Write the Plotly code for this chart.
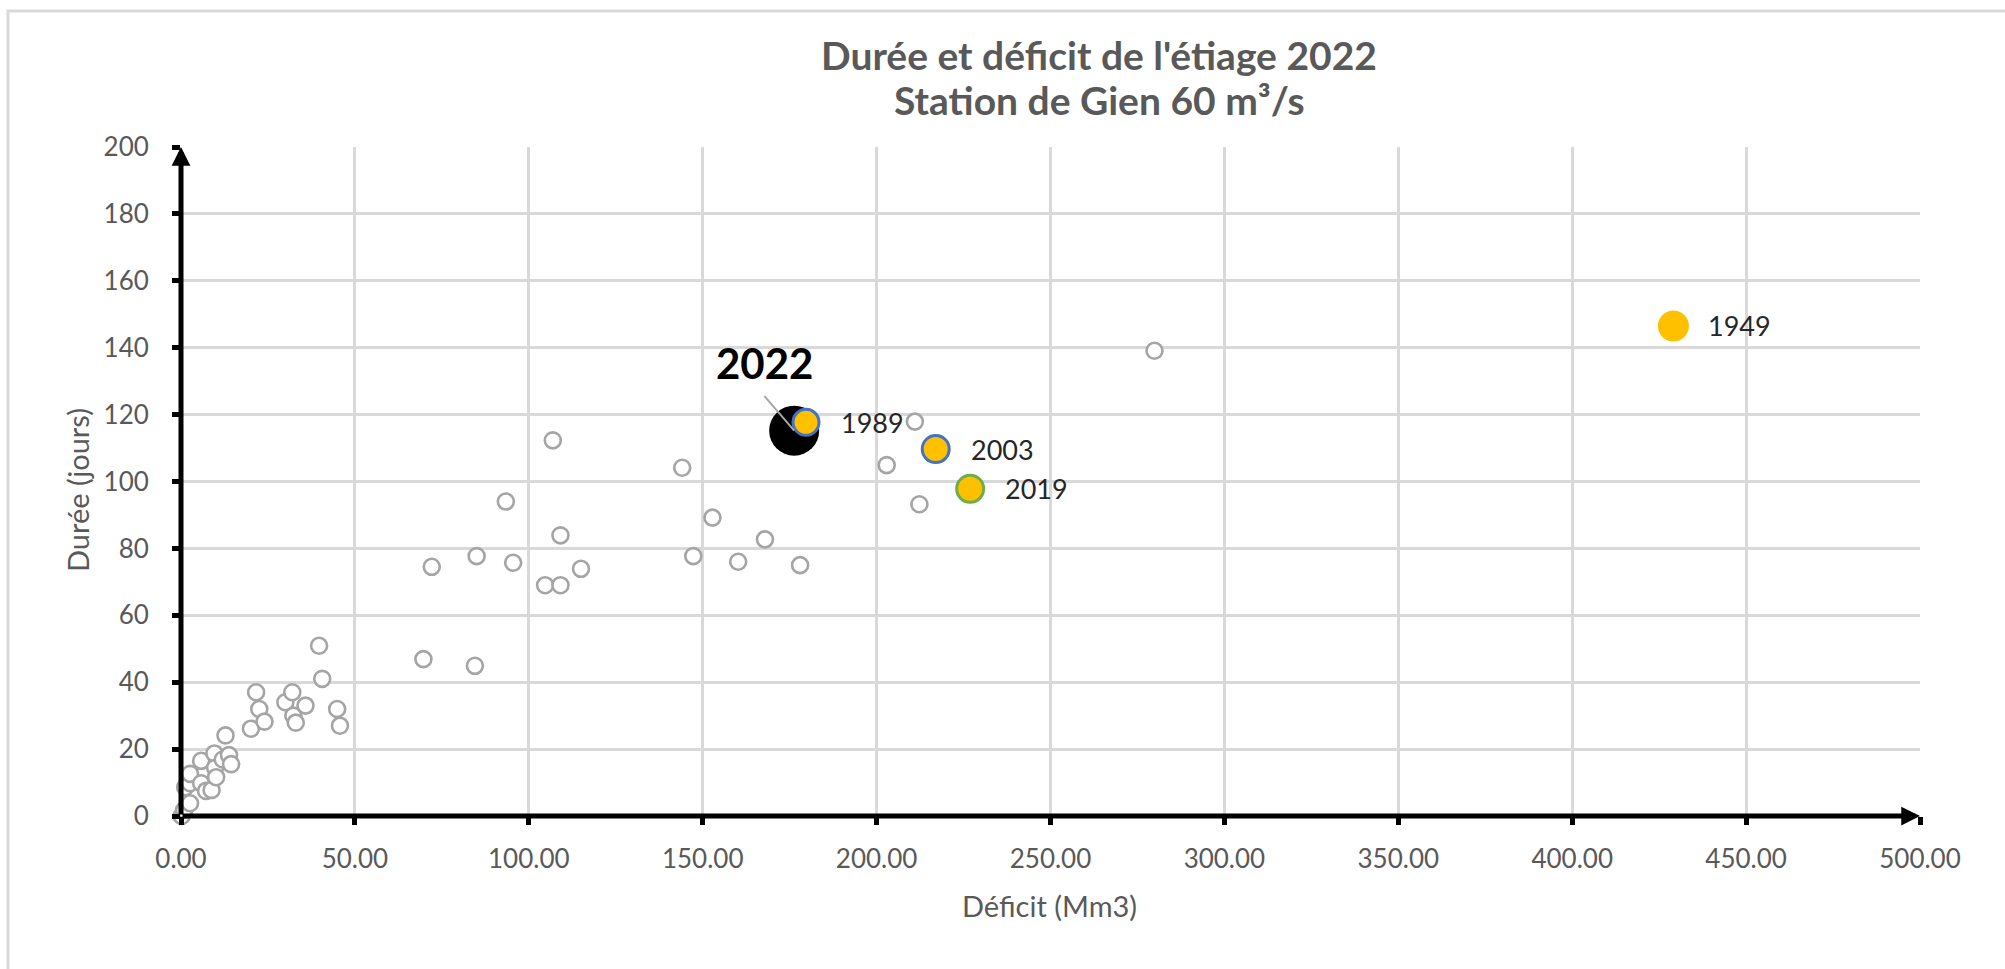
import plotly.graph_objects as go

# ---------------- data ----------------
deficit_all = [0.2, 0.9, 2.6, 1.2, 2.6, 2.6, 5.8, 5.8, 7.2, 8.8, 9.6, 9.8, 10.1, 12.0, 12.8, 13.8, 14.4,
               20.1, 21.6, 22.5, 24.0, 30.0, 32.0, 32.3, 33.0, 35.8, 39.7, 40.6, 44.9, 45.7,
               69.7, 84.5, 72.1, 85.0, 95.5, 93.4,
               106.9, 109.1, 104.7, 109.1, 115.0,
               144.1, 152.8, 167.9, 147.3, 160.2, 178.0,
               211.0, 202.9, 212.3, 279.9]
duree_all = [0, 1.8, 3.8, 8.6, 9.8, 12.6, 16.5, 9.8, 7.5, 7.8, 18.7, 14.4, 11.6, 16.9, 24.1, 18.2, 15.5,
             26.1, 37.0, 32.0, 28.2, 34.0, 37.0, 30.0, 27.9, 33.0, 50.9, 41.0, 32.0, 27.0,
             46.9, 44.9, 74.5, 77.7, 75.7, 94.0,
             112.3, 83.9, 69.0, 69.0, 73.9,
             104.1, 89.2, 82.7, 77.7, 76.0, 75.0,
             117.9, 104.9, 93.2, 139.1]

highlight_years = ["1949", "1989", "2003", "2019"]
highlight_deficit = [429.1, 179.7, 217.0, 226.9]
highlight_duree = [146.5, 117.7, 109.7, 97.8]
highlight_border = ["#FFC000", "#4472C4", "#4472C4", "#70AD47"]

year_2022 = "2022"
deficit_2022 = [176.3]
duree_2022 = [115.2]

x_tickvals = [0, 50, 100, 150, 200, 250, 300, 350, 400, 450, 500]
y_tickvals = [0, 20, 40, 60, 80, 100, 120, 140, 160, 180, 200]

title_line1 = "Durée et déficit de l'étiage 2022"
title_line2 = "Station de Gien 60 m³/s"
x_title = "Déficit (Mm3)"
y_title = "Durée (jours)"

# ---------------- layout geometry ----------------
W, H = 2005, 969
L, R, T, B = 181, 1920, 147, 816
FONT = "Lato, 'Open Sans', sans-serif"
GRAY = "#595959"


def px(x):
    return (x - L) / (R - L)


def py(y):
    return (B - y) / (B - T)


fig = go.Figure()

fig.add_trace(go.Scatter(
    x=deficit_all, y=duree_all, mode="markers", cliponaxis=False,
    marker=dict(size=16, color="white", opacity=1, line=dict(color="#A5A5A5", width=2.6)),
    hoverinfo="x+y", showlegend=False))

fig.add_trace(go.Scatter(
    x=deficit_2022, y=duree_2022, mode="markers", cliponaxis=False,
    marker=dict(size=50, color="black", opacity=1, line=dict(width=0)),
    showlegend=False))

fig.add_trace(go.Scatter(
    x=highlight_deficit, y=highlight_duree, mode="markers", cliponaxis=False,
    marker=dict(size=[31, 26, 27, 27], color="#FFC000", opacity=1,
                line=dict(color=highlight_border, width=[0, 3, 3, 3])),
    text=highlight_years, hoverinfo="text+x+y", showlegend=False))

annotations = []
for yr, xv, yv in zip(highlight_years, highlight_deficit, highlight_duree):
    annotations.append(dict(x=xv, y=yv, xref="x", yref="y", text=yr, showarrow=False,
                            xanchor="left", yanchor="middle", xshift=33,
                            font=dict(family=FONT, size=27, color="#262626")))

annotations.append(dict(x=deficit_2022[0], y=duree_2022[0], xref="x", yref="y",
                        text="<b>%s</b>" % year_2022, showarrow=False,
                        xanchor="center", yanchor="middle", xshift=-30, yshift=68,
                        font=dict(family=FONT, size=42, color="black")))
annotations.append(dict(x=deficit_2022[0], y=duree_2022[0], xref="x", yref="y",
                        text="", showarrow=True, ax=-31, ay=-36, arrowhead=0,
                        arrowwidth=2, arrowcolor="#A6A6A6", standoff=0))

# axis arrows
annotations.append(dict(x=x_tickvals[-1], y=0, ax=0, ay=0, xref="x", yref="y",
                        axref="x", ayref="y", text="", showarrow=True, arrowhead=2,
                        arrowsize=0.75, arrowwidth=5, arrowcolor="black", standoff=0))
annotations.append(dict(x=0, y=y_tickvals[-1], ax=0, ay=0, xref="x", yref="y",
                        axref="x", ayref="y", text="", showarrow=True, arrowhead=2,
                        arrowsize=0.75, arrowwidth=5, arrowcolor="black", standoff=0))

# titles
annotations.append(dict(x=px(1099), y=py(55), xref="paper", yref="paper",
                        text="<b>%s</b>" % title_line1, showarrow=False,
                        xanchor="center", yanchor="middle",
                        font=dict(family=FONT, size=39, color=GRAY)))
annotations.append(dict(x=px(1099), y=py(100), xref="paper", yref="paper",
                        text="<b>%s</b>" % title_line2, showarrow=False,
                        xanchor="center", yanchor="middle",
                        font=dict(family=FONT, size=39, color=GRAY)))
annotations.append(dict(x=px(1049), y=py(905), xref="paper", yref="paper",
                        text=x_title, showarrow=False, xanchor="center", yanchor="middle",
                        font=dict(family=FONT, size=29, color=GRAY)))
annotations.append(dict(x=px(77), y=py(490), xref="paper", yref="paper",
                        text=y_title, showarrow=False, textangle=-90,
                        xanchor="center", yanchor="middle",
                        font=dict(family=FONT, size=29, color=GRAY)))

fig.update_layout(
    width=W, height=H,
    margin=dict(l=L, r=W - R, t=T, b=H - B, pad=0),
    paper_bgcolor="white", plot_bgcolor="white",
    font=dict(family=FONT, color=GRAY),
    annotations=annotations,
    shapes=[dict(type="rect", xref="paper", yref="paper",
                 x0=px(8), x1=px(2030), y0=py(990), y1=py(11),
                 line=dict(color="#D9D9D9", width=3), fillcolor="rgba(0,0,0,0)",
                 layer="below")],
    xaxis=dict(range=[0, 500], tickvals=x_tickvals, tickformat=".2f",
               showgrid=True, gridcolor="#D9D9D9", gridwidth=2.5,
               zeroline=False, showline=False,
               ticks="outside", ticklen=8, tickwidth=5, tickcolor="black",
               ticklabelstandoff=12,
               tickfont=dict(family=FONT, size=26, color=GRAY), fixedrange=True),
    yaxis=dict(range=[0, 200], tickvals=y_tickvals,
               showgrid=True, gridcolor="#D9D9D9", gridwidth=2.5,
               zeroline=False, showline=False,
               ticks="outside", ticklen=8, tickwidth=5, tickcolor="black",
               ticklabelstandoff=18,
               tickfont=dict(family=FONT, size=26, color=GRAY), fixedrange=True),
)

fig.write_html("out.html", config={"displayModeBar": False},
               post_script="document.body.style.margin='0px';")
